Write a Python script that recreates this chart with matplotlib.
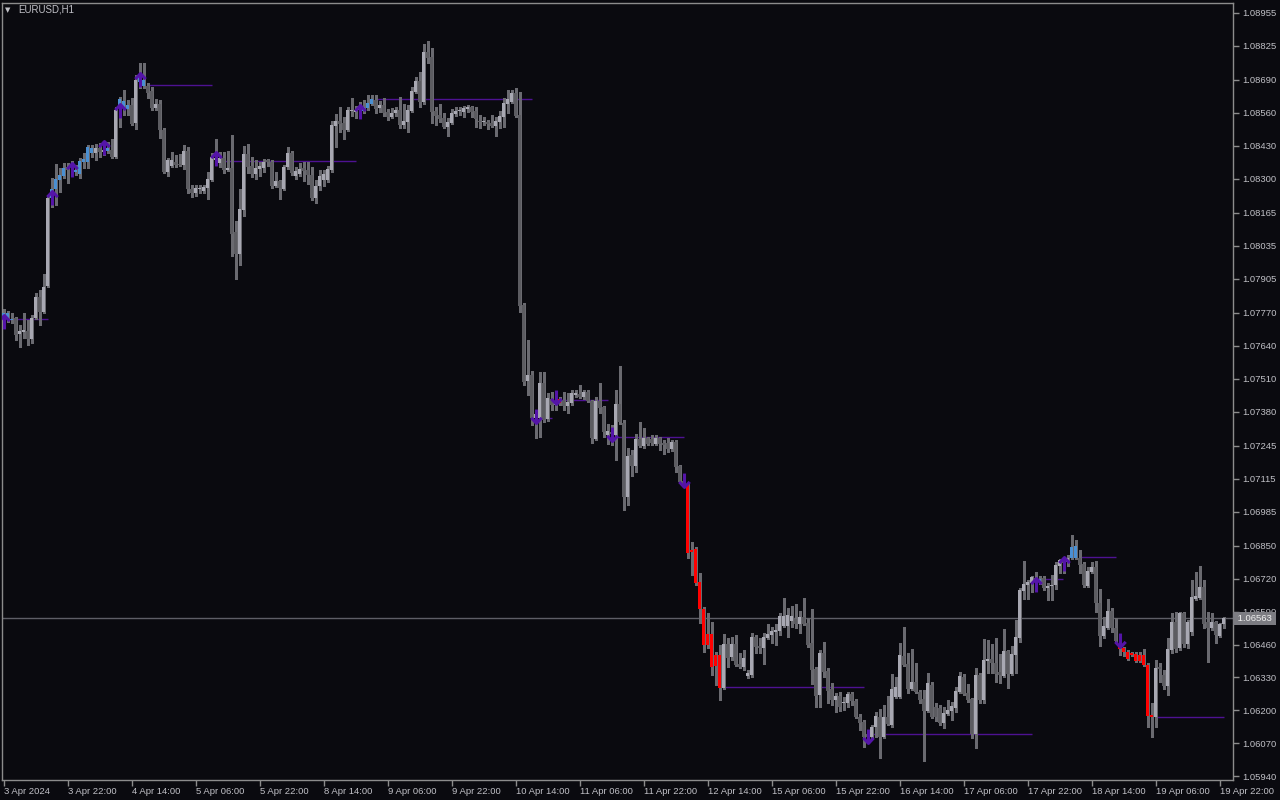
import numpy as np
import matplotlib
matplotlib.use("Agg")
import matplotlib.pyplot as plt
import matplotlib.transforms as mtransforms
from matplotlib.path import Path

# EURUSD H1 candles, prices in points (1e-5), one bar per hour from 3 Apr 06:00
open_pts = [
    107770, 107746, 107742, 107750, 107687, 107695, 107699, 107667, 107750, 107833,
    107774, 107876, 108224, 108259, 108295, 108311, 108346, 108346, 108327, 108319,
    108366, 108366, 108421, 108402, 108421, 108406, 108410, 108414, 108386, 108583,
    108607, 108575, 108591, 108520, 108682, 108690, 108666, 108647, 108579, 108595,
    108493, 108327, 108350, 108366, 108358, 108354, 108410, 108259, 108244, 108259,
    108252, 108263, 108295, 108374, 108362, 108382, 108335, 108342, 108090, 108003,
    108177, 108398, 108350, 108319, 108338, 108342, 108374, 108366, 108271, 108291,
    108259, 108346, 108402, 108311, 108319, 108342, 108335, 108315, 108224, 108271,
    108295, 108295, 108335, 108508, 108528, 108520, 108493, 108568, 108564, 108572,
    108568, 108579, 108595, 108611, 108579, 108591, 108564, 108544, 108560, 108572,
    108512, 108524, 108568, 108643, 108686, 108603, 108801, 108781, 108568, 108552,
    108540, 108504, 108520, 108556, 108568, 108564, 108575, 108583, 108568, 108528,
    108524, 108524, 108520, 108508, 108524, 108544, 108595, 108603, 108639, 108552,
    107801, 107501, 107525, 107355, 107355, 107493, 107351, 107430, 107406, 107430,
    107426, 107402, 107414, 107446, 107450, 107438, 107458, 107422, 107272, 107422,
    107398, 107288, 107300, 107288, 107410, 107335, 107043, 107209, 107165, 107272,
    107244, 107276, 107272, 107252, 107276, 107256, 107256, 107232, 107260, 107165,
    107106, 107090, 106834, 106837, 106707, 106600, 106502, 106502, 106419, 106419,
    106288, 106462, 106411, 106462, 106383, 106371, 106336, 106340, 106490, 106454,
    106446, 106486, 106498, 106510, 106514, 106533, 106533, 106553, 106561, 106541,
    106569, 106545, 106466, 106363, 106261, 106427, 106356, 106284, 106241, 106257,
    106229, 106229, 106265, 106237, 106174, 106154, 106107, 106095, 106134, 106174,
    106095, 106174, 106142, 106253, 106253, 106415, 106383, 106284, 106312, 106273,
    106245, 106198, 106300, 106213, 106209, 106150, 106186, 106198, 106209, 106273,
    106332, 106269, 106245, 106107, 106340, 106241, 106395, 106403, 106387, 106352,
    106336, 106435, 106344, 106419, 106486, 106672, 106695, 106703, 106723, 106707,
    106723, 106683, 106691, 106695, 106770, 106794, 106786, 106802, 106849, 106802,
    106778, 106691, 106747, 106766, 106624, 106494, 106525, 106593, 106525, 106458,
    106446, 106431, 106427, 106423, 106419, 106419, 106379, 106182, 106174, 106371,
    106340, 106296, 106439, 106549, 106446, 106585, 106462, 106510, 106640, 106644,
    106687, 106549, 106525, 106549, 106494, 106541,
]
high_pts = [
    107785, 107778, 107770, 107754, 107722, 107770, 107742, 107762, 107849, 107861,
    107924, 108236, 108303, 108358, 108342, 108362, 108362, 108370, 108354, 108382,
    108402, 108433, 108433, 108437, 108441, 108433, 108445, 108457, 108583, 108623,
    108651, 108611, 108619, 108710, 108757, 108757, 108678, 108662, 108615, 108611,
    108500, 108382, 108406, 108394, 108398, 108433, 108425, 108275, 108275, 108275,
    108275, 108327, 108402, 108457, 108406, 108406, 108410, 108473, 108133, 108259,
    108429, 108437, 108386, 108374, 108366, 108378, 108378, 108374, 108327, 108295,
    108354, 108425, 108410, 108346, 108362, 108366, 108366, 108346, 108295, 108335,
    108335, 108350, 108528, 108556, 108583, 108544, 108583, 108619, 108587, 108603,
    108611, 108631, 108631, 108631, 108607, 108619, 108575, 108579, 108583, 108623,
    108595, 108591, 108662, 108702, 108722, 108832, 108844, 108816, 108583, 108595,
    108560, 108540, 108575, 108583, 108583, 108587, 108591, 108587, 108583, 108552,
    108544, 108532, 108552, 108544, 108568, 108619, 108651, 108651, 108658, 108643,
    107809, 107663, 107541, 107387, 107537, 107537, 107454, 107458, 107458, 107438,
    107458, 107454, 107466, 107466, 107485, 107466, 107466, 107426, 107438, 107493,
    107402, 107331, 107327, 107466, 107560, 107347, 107236, 107229, 107292, 107339,
    107315, 107280, 107288, 107288, 107280, 107268, 107276, 107268, 107268, 107169,
    107134, 107098, 106865, 106845, 106743, 106608, 106585, 106549, 106431, 106458,
    106502, 106486, 106490, 106498, 106427, 106439, 106360, 106506, 106498, 106486,
    106506, 106541, 106529, 106541, 106585, 106644, 106604, 106612, 106620, 106593,
    106644, 106565, 106600, 106371, 106439, 106470, 106367, 106308, 106269, 106273,
    106253, 106273, 106273, 106245, 106186, 106162, 106123, 106142, 106194, 106205,
    106221, 106257, 106344, 106332, 106466, 106529, 106427, 106442, 106387, 106281,
    106281, 106348, 106312, 106229, 106221, 106213, 106241, 106233, 106292, 106352,
    106344, 106304, 106249, 106367, 106348, 106482, 106478, 106462, 106486, 106423,
    106521, 106439, 106454, 106557, 106683, 106790, 106715, 106731, 106747, 106731,
    106731, 106703, 106735, 106786, 106798, 106802, 106814, 106893, 106873, 106834,
    106786, 106766, 106786, 106790, 106679, 106569, 106640, 106604, 106565, 106486,
    106450, 106439, 106431, 106431, 106431, 106442, 106387, 106229, 106399, 106387,
    106360, 106486, 106585, 106589, 106589, 106589, 106557, 106715, 106747, 106770,
    106715, 106589, 106585, 106553, 106545, 106569,
]
low_pts = [
    107742, 107734, 107730, 107663, 107635, 107671, 107643, 107651, 107746, 107722,
    107770, 107872, 108188, 108196, 108248, 108303, 108283, 108315, 108315, 108303,
    108342, 108342, 108386, 108374, 108386, 108394, 108402, 108382, 108382, 108504,
    108552, 108552, 108512, 108496, 108658, 108658, 108619, 108572, 108572, 108461,
    108323, 108311, 108346, 108346, 108350, 108338, 108244, 108228, 108232, 108244,
    108244, 108220, 108291, 108354, 108346, 108323, 108331, 107995, 107904, 107959,
    108153, 108323, 108307, 108299, 108311, 108327, 108350, 108263, 108267, 108220,
    108256, 108338, 108315, 108299, 108311, 108291, 108279, 108216, 108204, 108256,
    108271, 108287, 108327, 108425, 108485, 108457, 108489, 108548, 108540, 108556,
    108560, 108572, 108591, 108560, 108564, 108548, 108532, 108540, 108548, 108500,
    108500, 108485, 108564, 108639, 108583, 108595, 108757, 108520, 108512, 108524,
    108500, 108469, 108516, 108548, 108552, 108544, 108564, 108544, 108504, 108500,
    108512, 108496, 108504, 108469, 108500, 108504, 108560, 108599, 108544, 107774,
    107485, 107446, 107327, 107276, 107280, 107339, 107343, 107387, 107387, 107406,
    107387, 107375, 107406, 107438, 107434, 107430, 107418, 107256, 107268, 107375,
    107280, 107252, 107248, 107189, 107331, 106992, 107011, 107126, 107142, 107240,
    107236, 107248, 107248, 107248, 107229, 107213, 107221, 107225, 107142, 107098,
    107086, 106802, 106735, 106695, 106545, 106431, 106446, 106340, 106300, 106241,
    106284, 106371, 106399, 106375, 106367, 106360, 106328, 106332, 106427, 106427,
    106383, 106482, 106466, 106458, 106498, 106529, 106490, 106529, 106525, 106506,
    106537, 106450, 106304, 106213, 106213, 106332, 106229, 106221, 106194, 106198,
    106202, 106213, 106221, 106170, 106123, 106055, 106075, 106087, 106095, 106012,
    106091, 106142, 106134, 106249, 106249, 106375, 106269, 106281, 106269, 106229,
    106000, 106194, 106170, 106158, 106142, 106130, 106182, 106162, 106194, 106269,
    106261, 106233, 106091, 106051, 106229, 106229, 106348, 106348, 106312, 106308,
    106332, 106288, 106340, 106348, 106470, 106640, 106640, 106668, 106676, 106699,
    106676, 106636, 106636, 106679, 106743, 106743, 106770, 106798, 106798, 106743,
    106687, 106687, 106743, 106589, 106454, 106486, 106521, 106510, 106466, 106419,
    106415, 106399, 106415, 106391, 106391, 106375, 106134, 106095, 106134, 106312,
    106284, 106261, 106427, 106431, 106439, 106450, 106446, 106498, 106636, 106640,
    106525, 106391, 106518, 106466, 106490, 106525,
]
close_pts = [
    107758, 107770, 107746, 107683, 107699, 107703, 107667, 107750, 107833, 107774,
    107872, 108224, 108259, 108299, 108315, 108342, 108335, 108358, 108335, 108370,
    108378, 108425, 108402, 108421, 108406, 108414, 108421, 108386, 108572, 108615,
    108583, 108591, 108516, 108690, 108702, 108666, 108639, 108579, 108595, 108493,
    108327, 108374, 108374, 108354, 108354, 108410, 108259, 108244, 108263, 108263,
    108267, 108299, 108386, 108382, 108382, 108335, 108342, 108082, 108003, 108180,
    108398, 108346, 108319, 108342, 108350, 108366, 108366, 108271, 108291, 108263,
    108346, 108402, 108323, 108331, 108338, 108331, 108315, 108224, 108271, 108311,
    108319, 108338, 108512, 108528, 108516, 108493, 108572, 108572, 108572, 108583,
    108583, 108599, 108615, 108575, 108591, 108560, 108544, 108560, 108572, 108512,
    108528, 108572, 108647, 108686, 108603, 108801, 108777, 108564, 108548, 108536,
    108504, 108524, 108560, 108568, 108572, 108579, 108583, 108564, 108536, 108524,
    108528, 108516, 108508, 108528, 108548, 108599, 108615, 108639, 108548, 107797,
    107497, 107525, 107355, 107371, 107493, 107347, 107434, 107406, 107418, 107414,
    107402, 107418, 107454, 107454, 107438, 107458, 107422, 107276, 107422, 107394,
    107300, 107304, 107292, 107410, 107339, 107043, 107205, 107165, 107272, 107244,
    107276, 107252, 107256, 107276, 107252, 107248, 107232, 107260, 107161, 107102,
    107094, 106822, 106826, 106703, 106600, 106458, 106458, 106371, 106375, 106288,
    106462, 106407, 106462, 106379, 106371, 106407, 106348, 106490, 106450, 106446,
    106490, 106502, 106514, 106518, 106573, 106573, 106577, 106573, 106541, 106569,
    106541, 106458, 106360, 106257, 106427, 106352, 106277, 106241, 106257, 106213,
    106233, 106265, 106237, 106174, 106150, 106095, 106095, 106134, 106178, 106095,
    106174, 106146, 106284, 106292, 106419, 106379, 106284, 106312, 106273, 106241,
    106198, 106308, 106174, 106174, 106150, 106190, 106202, 106217, 106277, 106336,
    106265, 106241, 106107, 106340, 106241, 106399, 106403, 106387, 106344, 106340,
    106435, 106344, 106423, 106490, 106676, 106699, 106707, 106727, 106711, 106719,
    106683, 106691, 106695, 106774, 106794, 106782, 106802, 106845, 106802, 106774,
    106695, 106751, 106766, 106624, 106494, 106533, 106593, 106525, 106474, 106442,
    106431, 106403, 106419, 106395, 106395, 106379, 106178, 106174, 106367, 106363,
    106296, 106442, 106549, 106442, 106585, 106462, 106549, 106648, 106652, 106687,
    106541, 106525, 106549, 106498, 106541, 106563,
]

# bars painted by the trend indicator
blue_bars = [0, 1, 2, 12, 13, 14, 15, 17, 18, 19, 20, 21, 22, 26, 29, 30, 31, 34, 35,
             90, 91, 92, 259, 267, 268]
red_bars = [139] + list(range(171, 180)) + list(range(279, 288))

# signal arrows (bar index, price in points)
up_arrow_bar = [0, 12, 17, 25, 29, 34, 53, 89, 258, 265]
up_arrow_pts = [107734, 108224, 108335, 108421, 108568, 108690, 108378, 108564, 106695, 106778]
dn_arrow_bar = [133, 138, 152, 170, 216, 279]
dn_arrow_pts = [107363, 107438, 107292, 107110, 106099, 106478]

# horizontal levels (price, from bar, to bar)
level_pts = [107746, 108670, 108370, 108615, 107355, 107426, 107280, 106292, 106107,
             106719, 106806, 106174]
level_from = [3, 36, 53.75, 93, 133.75, 140, 153, 180, 217, 259.75, 269, 288]
level_to = [11, 52, 88, 132, 137, 151, 170, 215, 257, 264.75, 278, 305]

time_labels = ["3 Apr 2024", "3 Apr 22:00", "4 Apr 14:00", "5 Apr 06:00", "5 Apr 22:00",
               "8 Apr 14:00", "9 Apr 06:00", "9 Apr 22:00", "10 Apr 14:00", "11 Apr 06:00",
               "11 Apr 22:00", "12 Apr 14:00", "15 Apr 06:00", "15 Apr 22:00", "16 Apr 14:00",
               "17 Apr 06:00", "17 Apr 22:00", "18 Apr 14:00", "19 Apr 06:00", "19 Apr 22:00"]
price_labels = ["1.08955", "1.08825", "1.08690", "1.08560", "1.08430", "1.08300", "1.08165",
                "1.08035", "1.07905", "1.07770", "1.07640", "1.07510", "1.07380", "1.07245",
                "1.07115", "1.06985", "1.06850", "1.06720", "1.06590", "1.06460", "1.06330",
                "1.06200", "1.06070", "1.05940"]
bid_price = 1.06563

bg = "#0a0a0f"
fg = "#c0c0c6"
frame = "#8c8c8c"
light = "#a8a8b2"
dark = "#5c5c61"
blue = "#4a8fd2"
red = "#ff0000"
wick = "#6a6a70"
purple = "#4e1292"
arrow_col = "#5414a8"

plt.rcParams["font.family"] = ["Liberation Sans", "DejaVu Sans"]

o = np.array(open_pts) / 1e5
h = np.array(high_pts) / 1e5
l = np.array(low_pts) / 1e5
c = np.array(close_pts) / 1e5
x = np.arange(len(o))

cols = []
for i in x:
    if i in red_bars:
        cols.append(red)
    elif i in blue_bars:
        cols.append(blue)
    elif c[i] >= o[i]:
        cols.append(light)
    else:
        cols.append(dark)

fig = plt.figure(figsize=(12.8, 8), dpi=100, facecolor=bg)
ax = fig.add_axes([2 / 1280, 20 / 800, 1231 / 1280, 777 / 800])
ax.set_facecolor(bg)

# bid line
ax.axhline(bid_price, color="#5e5e66", lw=1, zorder=1)

# levels
ax.hlines(np.array(level_pts) / 1e5, level_from, level_to, colors=purple, lw=1, zorder=1.5)

# candles
ax.vlines(x, l, h, colors=wick, lw=1, zorder=2, antialiased=False)
body_lo = np.minimum(o, c)
body_h = np.maximum(np.abs(c - o), 0.00003)
ax.bar(x, body_h, bottom=body_lo, width=0.75, color=cols, linewidth=0, zorder=3,
       antialiased=False)

# signal arrows as open line markers
up_arrow = Path([(0, -1), (0, 1), (-0.75, 0.2), (0, 1), (0.75, 0.2)],
                [Path.MOVETO, Path.LINETO, Path.MOVETO, Path.LINETO, Path.LINETO])
dn_arrow = Path([(0, 1), (0, -1), (-0.75, -0.2), (0, -1), (0.75, -0.2)],
                [Path.MOVETO, Path.LINETO, Path.MOVETO, Path.LINETO, Path.LINETO])
ax.plot(up_arrow_bar, np.array(up_arrow_pts) / 1e5, linestyle="none", marker=up_arrow,
        markersize=10, markeredgewidth=2.2, color=arrow_col, fillstyle="none", zorder=5)
ax.plot(dn_arrow_bar, np.array(dn_arrow_pts) / 1e5, linestyle="none", marker=dn_arrow,
        markersize=10, markeredgewidth=2.2, color=arrow_col, fillstyle="none", zorder=5)

# half-bar offset so every bar centre falls on a pixel centre
ax.set_xlim(-0.375, 307.375)
ax.set_ylim(1.05925, 1.08994)

for s in ax.spines.values():
    s.set_color(frame)
    s.set_linewidth(1)

ax.set_xticks(np.arange(0, 306, 16))
ax.set_xticklabels(time_labels, ha="left")
ax.set_yticks([float(v) for v in price_labels])
ax.set_yticklabels(price_labels)
ax.yaxis.tick_right()
ax.tick_params(axis="x", direction="out", length=4, width=1, color=frame,
               labelsize=6.8, labelcolor=fg, pad=1)
ax.tick_params(axis="y", direction="out", length=4, width=1, color=frame,
               labelsize=6.8, labelcolor=fg, pad=2.5)

# bid price tag
trans = mtransforms.blended_transform_factory(ax.transAxes, ax.transData)
ax.text(1.0015, bid_price, " 1.06563 ", transform=trans, ha="left", va="center",
        fontsize=6.8, color="#f0f0f0", zorder=10, clip_on=False,
        bbox=dict(boxstyle="square,pad=0.2", fc="#7c7c82", ec="none"))

# chart title
fig.text(5 / 1280, 1 - 10 / 800, "\u25bc", fontsize=5, color=fg, va="center", ha="left",
         family="DejaVu Sans")
fig.text(18 / 1280, 1 - 10 / 800, "EURUSD,H1", fontsize=7, color=fg, va="center", ha="left")

fig.savefig("out.png", dpi=100, facecolor=bg)
